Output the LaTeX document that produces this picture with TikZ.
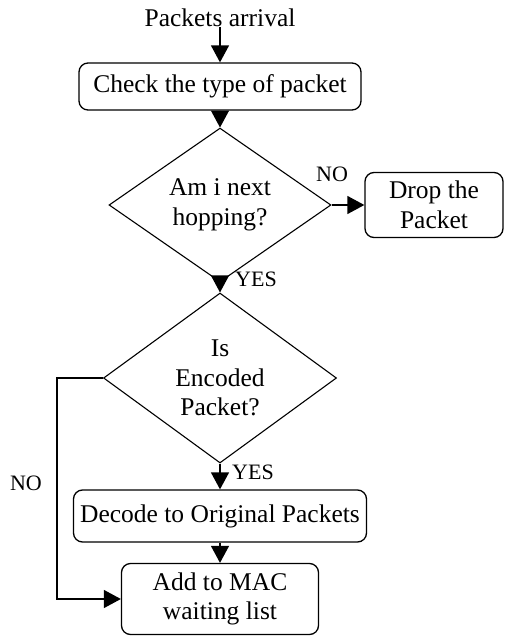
\documentclass[tikz,border=0pt]{standalone}
\usepackage{fontspec}
\setmainfont{Liberation Serif}
\usetikzlibrary{shapes.geometric,arrows.meta}

\tikzset{
  base/.style={font=\fontsize{25.5}{29.5}\selectfont, align=center, inner sep=0pt},
  procbox/.style={base, draw, line width=1.3pt, rounded corners=9pt},
  decision/.style={base, draw, line width=1.1pt, diamond},
  flow/.style={line width=1.3pt, -{Triangle[length=17pt,width=18pt]}},
  tag/.style={font=\fontsize{22}{25}\selectfont, inner sep=0pt},
}

\begin{document}
\begin{tikzpicture}[x=1pt,y=-1pt]
  \useasboundingbox (0,0) rectangle (505,637);

  % start text and process boxes
  \node[base] (arrival) at (220,18) {Packets arrival};
  \node[procbox, minimum width=282pt, minimum height=47pt] (check) at (220,86.5) {Check the type of packet};

  % first decision and its NO branch
  \node[decision, minimum width=222pt, minimum height=124pt] (hop) at (220,205) {Am i next\\hopping?};
  \node[procbox, minimum width=138pt, minimum height=65pt] (drop) at (434,205) {Drop the\\Packet};

  % second decision
  \node[decision, minimum width=233pt, minimum height=170pt] (enc) at (220,378) {Is\\Encoded\\Packet?};

  % lower process boxes
  \node[procbox, minimum width=293pt, minimum height=52pt] (decode) at (220,516) {Decode to Original Packets};
  \node[procbox, minimum width=197pt, minimum height=71pt] (add) at (220,599) {Add to MAC\\waiting list};

  \coordinate (bendA) at (57,378);
  \coordinate (bendB) at (bendA |- add.west);

  % connectors
  \draw[flow] (arrival.south) -- (check.north);
  \draw[flow] (check.south) -- (hop.north);
  \draw[flow] (hop.east) -- (drop.west);
  \draw[flow] (hop.south) -- (enc.north);
  \draw[flow] (enc.south) -- (decode.north);
  \draw[flow] (decode.south) -- (add.north);
  \draw[flow] (enc.west) -- (bendA) -- (bendB) -- (add.west);

  % branch labels
  \node[tag] (noA) at (332,174) {NO};
  \node[tag] (yesA) at (256,279) {YES};
  \node[tag] (yesB) at (253,472) {YES};
  \node[tag] (noB) at (26,483) {NO};
\end{tikzpicture}
\end{document}
